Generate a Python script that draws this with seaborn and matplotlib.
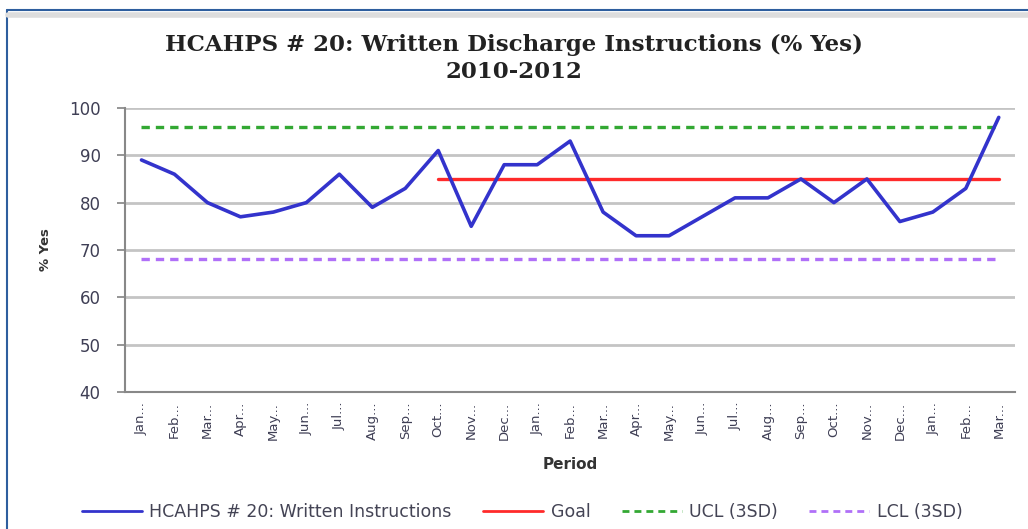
import matplotlib
matplotlib.use("Agg")
import matplotlib.pyplot as plt
from matplotlib.lines import Line2D
import seaborn as sns
import pandas as pd
import numpy as np

months = ["Jan...", "Feb...", "Mar...", "Apr...", "May...", "Jun...", "Jul...", "Aug...", "Sep...",
          "Oct...", "Nov...", "Dec...", "Jan...", "Feb...", "Mar...", "Apr...", "May...", "Jun...",
          "Jul...", "Aug...", "Sep...", "Oct...", "Nov...", "Dec...", "Jan...", "Feb...", "Mar..."]
written = [89, 86, 80, 77, 78, 80, 86, 79, 83, 91, 75, 88, 88, 93, 78, 73, 73, 77, 81, 81,
           85, 80, 85, 76, 78, 83, 98]
goal_value = 85
goal_start = 9
ucl_value = 96
lcl_value = 68

sns.set_theme(style="white")
plt.rcParams['font.family'] = ['DejaVu Sans']

n = len(months)
idx = np.arange(n)
df = pd.DataFrame({"idx": idx, "written": written})
df_goal = pd.DataFrame({"idx": idx[goal_start:], "goal": [goal_value] * (n - goal_start)})
df_ucl = pd.DataFrame({"idx": idx, "ucl": [ucl_value] * n})
df_lcl = pd.DataFrame({"idx": idx, "lcl": [lcl_value] * n})

fig = plt.figure(figsize=(10.28, 5.29), dpi=100)
ax = fig.add_axes([0.1216, 0.259, 0.866, 0.537])

grid_c = "#C4C4C4"
for y in range(40, 101, 10):
    ax.axhline(y, color=grid_c, lw=2.0, zorder=0)

sns.lineplot(data=df_ucl, x="idx", y="ucl", ax=ax, color="#33A833", lw=2.4,
             linestyle=(0, (2.5, 1.8)), label="UCL (3SD)", zorder=2)
sns.lineplot(data=df_lcl, x="idx", y="lcl", ax=ax, color="#B070F8", lw=2.4,
             linestyle=(0, (2.5, 1.8)), label="LCL (3SD)", zorder=2)
sns.lineplot(data=df_goal, x="idx", y="goal", ax=ax, color="#FF2A2A", lw=2.4,
             label="Goal", zorder=3)
sns.lineplot(data=df, x="idx", y="written", ax=ax, color="#3333CC", lw=2.6,
             label="HCAHPS # 20: Written Instructions", zorder=4)

ax.set_xlim(-0.5, n - 0.5)
ax.set_ylim(40, 100)
ax.set_yticks(range(40, 101, 10))
ax.set_yticklabels([str(v) for v in range(40, 101, 10)], fontsize=12, color="#3F3F55")
ax.set_xticks(idx)
ax.set_xticklabels(months, rotation=90, fontsize=9.5, color="#3F3F55")
ax.set_xticks(np.arange(-0.5, n, 1), minor=True)
ax.tick_params(axis="x", which="major", length=0, pad=7)
ax.tick_params(axis="x", which="minor", length=5, color="#888888", direction="out")
ax.tick_params(axis="y", length=6, color="#888888", direction="out", left=True, pad=11.5)

for s in ["top", "right"]:
    ax.spines[s].set_visible(False)
for s in ["left", "bottom"]:
    ax.spines[s].set_color("#888888")
    ax.spines[s].set_linewidth(1.5)

ax.set_xlabel("Period", fontsize=11, fontweight="bold", color="#333333", labelpad=12)
ax.set_ylabel("% Yes", fontsize=9.5, fontweight="bold", color="#333333")
ax.yaxis.set_label_coords(-0.082, 0.5)

fig.text(0.5, 0.915, "HCAHPS # 20: Written Discharge Instructions (% Yes)",
         ha="center", va="center", fontsize=16.5, fontweight="bold",
         family="DejaVu Serif", color="#222222")
fig.text(0.5, 0.863, "2010-2012", ha="center", va="center", fontsize=16.5,
         fontweight="bold", family="DejaVu Serif", color="#222222")

handles, labels = ax.get_legend_handles_labels()
order = [3, 2, 0, 1]
ax.get_legend().remove()
leg = fig.legend([handles[i] for i in order], [labels[i] for i in order],
                 loc="center", bbox_to_anchor=(0.508, 0.032), ncol=4, frameon=False,
                 fontsize=12.5, handlelength=3.45, columnspacing=1.8, handletextpad=0.45,
                 labelcolor="#444455")
for h in leg.legend_handles:
    h.set_linewidth(2.0)

# blue frame lines of the original slide
fig.add_artist(Line2D([0.007, 1.0], [0.981, 0.981], color="#2E5E9E", lw=1.5))
fig.add_artist(Line2D([0.007, 0.007], [0.0, 0.981], color="#2E5E9E", lw=1.5))
fig.add_artist(Line2D([0.008, 1.0], [0.972, 0.972], color="#DDDDDD", lw=4))

fig.savefig("out.png", dpi=100)
